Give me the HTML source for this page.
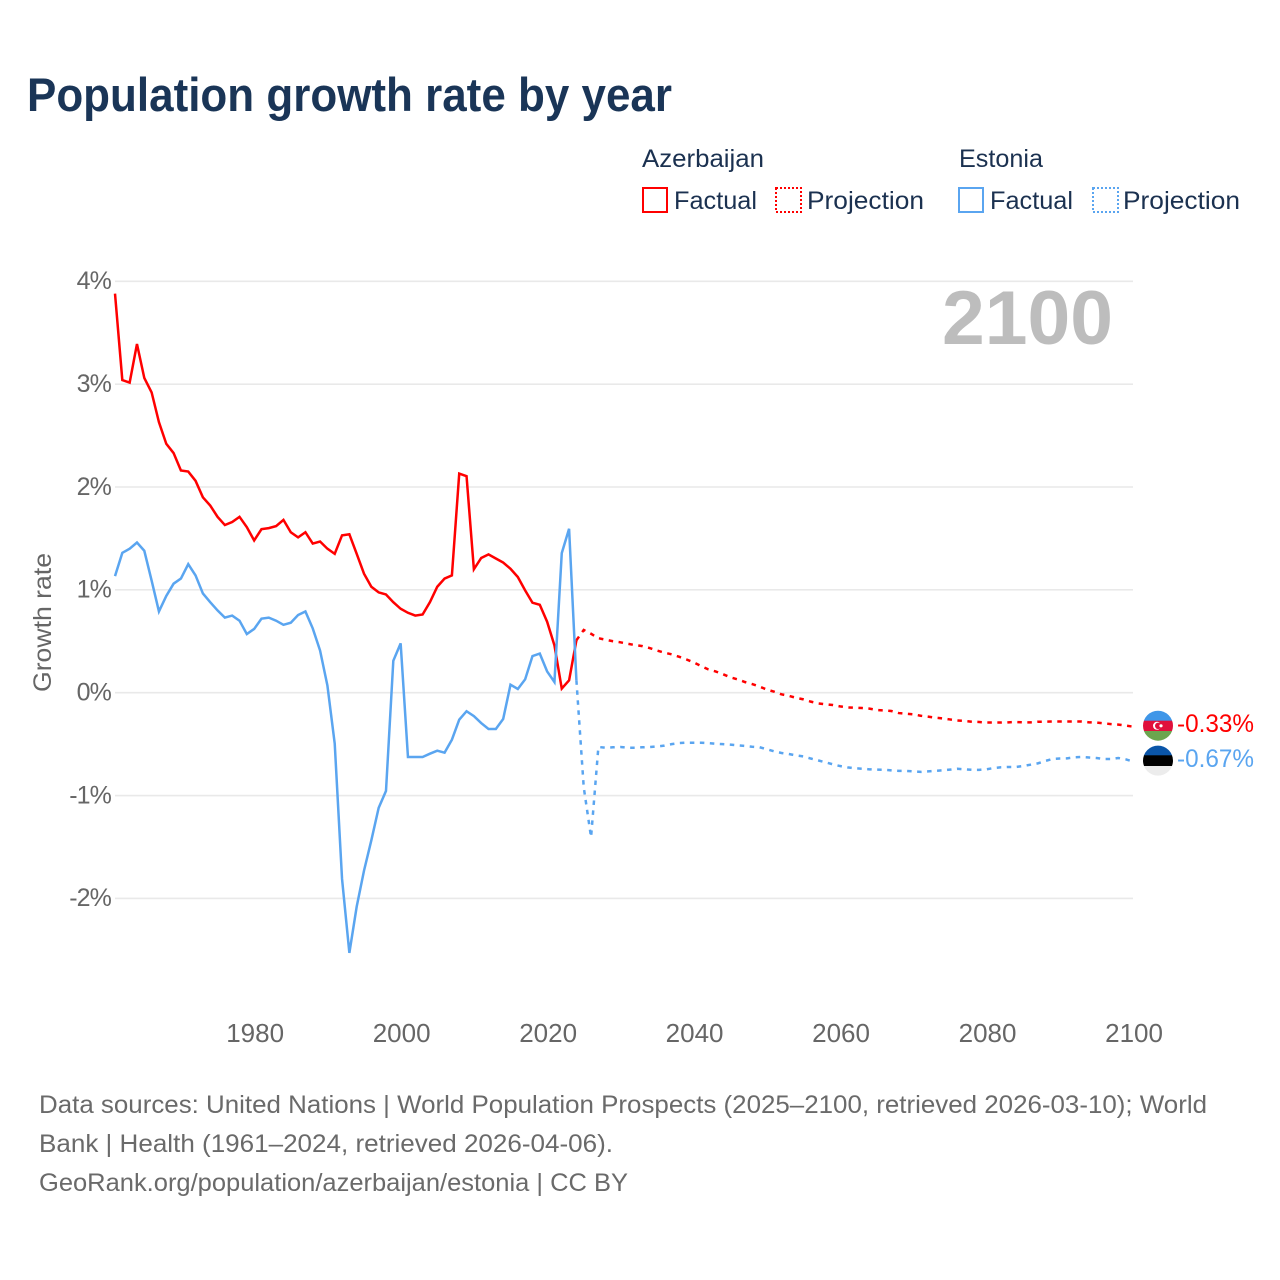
<!DOCTYPE html>
<html lang="en">
<head>
<meta charset="utf-8">
<title>Population growth rate by year</title>
<style>
html,body{margin:0;padding:0;background:#fff;width:1280px;height:1280px;overflow:hidden}
svg{display:block}
text{font-family:"Liberation Sans",Arial,sans-serif}
.tick{font-size:25px;fill:#666}
.legend{font-size:25px;fill:#1b3150}
.foot{font-size:25px;fill:#6a6a6a}
</style>
</head>
<body>
<svg id="chart" xmlns="http://www.w3.org/2000/svg" width="1280" height="1280" viewBox="0 0 1280 1280">
  <rect x="0" y="0" width="1280" height="1280" fill="#fff"/>
  <text x="27" y="111" font-size="47" font-weight="700" fill="#1a3557" textLength="645" lengthAdjust="spacingAndGlyphs">Population growth rate by year</text>

  <g>
    <text class="legend" x="642" y="167" textLength="122" lengthAdjust="spacingAndGlyphs">Azerbaijan</text>
    <text class="legend" x="959" y="167" textLength="84" lengthAdjust="spacingAndGlyphs">Estonia</text>
    <rect x="643" y="188" width="24" height="24" fill="none" stroke="#ff0000" stroke-width="2"/>
    <text class="legend" x="674" y="209" textLength="83" lengthAdjust="spacingAndGlyphs">Factual</text>
    <rect x="776" y="188" width="25" height="24" fill="none" stroke="#ff0000" stroke-width="2" stroke-dasharray="2 2"/>
    <text class="legend" x="807" y="209" textLength="117" lengthAdjust="spacingAndGlyphs">Projection</text>
    <rect x="959" y="188" width="24" height="24" fill="none" stroke="#5aa5f0" stroke-width="2"/>
    <text class="legend" x="990" y="209" textLength="83" lengthAdjust="spacingAndGlyphs">Factual</text>
    <rect x="1093" y="188" width="25" height="24" fill="none" stroke="#5aa5f0" stroke-width="2" stroke-dasharray="2 2"/>
    <text class="legend" x="1123" y="209" textLength="117" lengthAdjust="spacingAndGlyphs">Projection</text>
  </g>

  <g id="grid"></g>
  <g id="yticks"></g>
  <g id="xticks"></g>
  <text class="tick" transform="translate(51,692) rotate(-90)" x="0" y="0" textLength="139" lengthAdjust="spacingAndGlyphs">Growth rate</text>
  <text x="1113" y="344" text-anchor="end" font-size="76" font-weight="700" fill="#bdbdbd" textLength="171" lengthAdjust="spacingAndGlyphs">2100</text>
  <g id="series"></g>

  <defs>
    <clipPath id="flag-clip-az"><circle cx="1158" cy="725.7" r="15"/></clipPath>
    <clipPath id="flag-clip-ee"><circle cx="1158" cy="760.6" r="15"/></clipPath>
  </defs>
  <g clip-path="url(#flag-clip-az)">
    <rect x="1143" y="710" width="30" height="11" fill="#3f96e8"/>
    <rect x="1143" y="720.7" width="30" height="10.3" fill="#e0103c"/>
    <rect x="1143" y="731" width="30" height="10" fill="#6ba54e"/>
    <circle cx="1157" cy="725.8" r="4" fill="#fff"/>
    <circle cx="1158.2" cy="725.8" r="3.2" fill="#e0103c"/>
    <circle cx="1161" cy="725.8" r="1.6" fill="#fff"/>
  </g>
  <g clip-path="url(#flag-clip-ee)">
    <rect x="1143" y="745" width="30" height="11" fill="#0a55a8"/>
    <rect x="1143" y="755.3" width="30" height="10.7" fill="#000"/>
    <rect x="1143" y="766" width="30" height="10" fill="#ececec"/>
  </g>
  <g id="endlabels"></g>

  <g>
    <text class="foot" x="39" y="1113" textLength="1168" lengthAdjust="spacingAndGlyphs">Data sources: United Nations | World Population Prospects (2025–2100, retrieved 2026-03-10); World</text>
    <text class="foot" x="39" y="1152" textLength="574" lengthAdjust="spacingAndGlyphs">Bank | Health (1961–2024, retrieved 2026-04-06).</text>
    <text class="foot" x="39" y="1191" textLength="589" lengthAdjust="spacingAndGlyphs">GeoRank.org/population/azerbaijan/estonia | CC BY</text>
  </g>
</svg>
<script>
// Data (percent per year)
const factualStartYear = 1961;
const projectionStartYear = 2024;
const azerbaijanFactual = [3.88,3.04,3.015,3.39,3.06,2.92,2.63,2.42,2.33,2.16,2.15,2.06,1.90,1.82,1.71,1.63,1.66,1.71,1.61,1.48,1.59,1.60,1.62,1.68,1.56,1.51,1.56,1.45,1.47,1.40,1.35,1.53,1.54,1.35,1.157,1.03,0.975,0.955,0.88,0.816,0.777,0.75,0.76,0.88,1.03,1.11,1.14,2.13,2.105,1.20,1.31,1.345,1.305,1.265,1.205,1.125,0.995,0.875,0.855,0.69,0.46,0.04,0.12,0.51];
const estoniaFactual = [1.133,1.36,1.40,1.46,1.38,1.09,0.79,0.94,1.06,1.11,1.25,1.14,0.965,0.88,0.80,0.73,0.75,0.70,0.57,0.62,0.72,0.73,0.70,0.66,0.68,0.755,0.79,0.625,0.41,0.07,-0.495,-1.81,-2.53,-2.08,-1.73,-1.435,-1.12,-0.955,0.31,0.48,-0.625,-0.625,-0.625,-0.593,-0.564,-0.583,-0.457,-0.262,-0.18,-0.227,-0.295,-0.353,-0.353,-0.256,0.078,0.036,0.13,0.356,0.38,0.207,0.104,1.357,1.594,0.12];
const azerbaijanProjection = [0.51,0.61,0.573,0.53,0.515,0.50,0.49,0.476,0.463,0.453,0.434,0.41,0.39,0.373,0.35,0.324,0.295,0.26,0.227,0.207,0.18,0.15,0.13,0.104,0.084,0.06,0.03,0.01,-0.016,-0.03,-0.05,-0.065,-0.087,-0.104,-0.113,-0.12,-0.133,-0.143,-0.146,-0.149,-0.155,-0.168,-0.172,-0.178,-0.198,-0.204,-0.21,-0.224,-0.233,-0.243,-0.25,-0.26,-0.27,-0.275,-0.282,-0.285,-0.29,-0.29,-0.29,-0.288,-0.285,-0.288,-0.288,-0.282,-0.282,-0.28,-0.28,-0.28,-0.28,-0.28,-0.288,-0.29,-0.298,-0.305,-0.31,-0.32,-0.33];
const estoniaProjection = [0.12,-0.92,-1.405,-0.528,-0.535,-0.531,-0.528,-0.535,-0.535,-0.531,-0.528,-0.522,-0.515,-0.50,-0.49,-0.486,-0.486,-0.486,-0.49,-0.496,-0.50,-0.505,-0.512,-0.518,-0.525,-0.53,-0.55,-0.57,-0.586,-0.596,-0.61,-0.62,-0.64,-0.658,-0.677,-0.696,-0.713,-0.726,-0.735,-0.739,-0.745,-0.748,-0.75,-0.755,-0.76,-0.76,-0.765,-0.77,-0.765,-0.76,-0.755,-0.748,-0.74,-0.745,-0.75,-0.75,-0.745,-0.732,-0.725,-0.722,-0.722,-0.713,-0.70,-0.687,-0.664,-0.645,-0.64,-0.638,-0.628,-0.625,-0.63,-0.635,-0.645,-0.645,-0.635,-0.648,-0.67];
const yTickValues = [4,3,2,1,0,-1,-2];
const xTickYears = [1980,2000,2020,2040,2060,2080,2100];
const endLabelAzerbaijan = -0.33;
const endLabelEstonia = -0.67;

// Axis functions
const NS = 'http://www.w3.org/2000/svg';
function xScale(year){ return 115 + (year - 1961) * 7.324; }
function yScale(v){ return 692.7 - v * 102.85; }
function pathFrom(values, startYear){
  return values.map(function(v, i){
    return (i ? 'L' : 'M') + xScale(startYear + i).toFixed(2) + ' ' + yScale(v).toFixed(2);
  }).join(' ');
}
const grid = document.getElementById('grid');
const yticks = document.getElementById('yticks');
const xticks = document.getElementById('xticks');
const series = document.getElementById('series');
const endlabels = document.getElementById('endlabels');

yTickValues.forEach(function(v){
  const line = document.createElementNS(NS, 'line');
  
  
  line.setAttribute('x1', 115);
  line.setAttribute('x2', 1133);
  line.setAttribute('y1', yScale(v));
  line.setAttribute('y2', yScale(v));
  line.setAttribute('stroke', '#e9e9e9');
  line.setAttribute('stroke-width', '1.6');
  grid.appendChild(line);

  const t = document.createElementNS(NS, 'text');
  
  
  t.setAttribute('class', 'tick');
  t.setAttribute('x', 111);
  t.setAttribute('y', yScale(v) + 7.8);
  t.setAttribute('text-anchor', 'end');
  t.setAttribute('letter-spacing', '-0.9');
  t.textContent = v + '%';
  yticks.appendChild(t);
});

xTickYears.forEach(function(year){
  const t = document.createElementNS(NS, 'text');
  
  
  t.setAttribute('class', 'tick');
  t.setAttribute('x', xScale(year) + 1);
  t.setAttribute('y', 1042);
  t.setAttribute('text-anchor', 'middle');
  t.setAttribute('font-size', '26');
  t.style.fontSize = '26px';
  t.textContent = String(year);
  xticks.appendChild(t);
});

function drawLine(name, values, startYear, color, dashed){
  const p = document.createElementNS(NS, 'path');
  
  
  p.setAttribute('d', pathFrom(values, startYear));
  p.setAttribute('fill', 'none');
  p.setAttribute('stroke', color);
  p.setAttribute('stroke-width', '2.5');
  p.setAttribute('stroke-linejoin', 'miter');
  if (dashed) p.setAttribute('stroke-dasharray', '4.5 5.5');
  series.appendChild(p);
}
drawLine('azerbaijan-factual-line', azerbaijanFactual, factualStartYear, '#ff0000', false);
drawLine('azerbaijan-projection-line', azerbaijanProjection, projectionStartYear, '#ff0000', true);
drawLine('estonia-factual-line', estoniaFactual, factualStartYear, '#5aa5f0', false);
drawLine('estonia-projection-line', estoniaProjection, projectionStartYear, '#5aa5f0', true);

function drawEndLabel(name, value, baseline, color){
  const t = document.createElementNS(NS, 'text');
  
  
  t.setAttribute('x', 1177);
  t.setAttribute('y', baseline);
  t.setAttribute('font-size', '25');
  t.setAttribute('fill', color);
  t.setAttribute('textLength', '77');
  t.setAttribute('lengthAdjust', 'spacingAndGlyphs');
  t.textContent = value.toFixed(2) + '%';
  endlabels.appendChild(t);
}
drawEndLabel('azerbaijan-end-value', endLabelAzerbaijan, 732, '#ff0000');
drawEndLabel('estonia-end-value', endLabelEstonia, 767, '#5aa5f0');
</script>
</body>
</html>
